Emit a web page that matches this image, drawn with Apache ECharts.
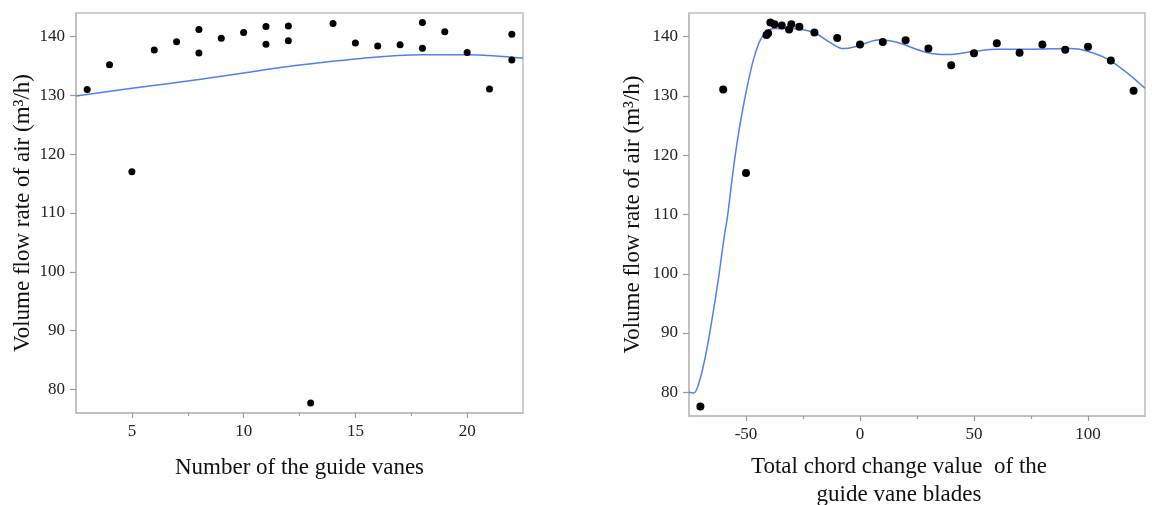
<!DOCTYPE html>
<html>
<head>
<meta charset="utf-8">
<script src="https://cdn.jsdelivr.net/npm/echarts@6/dist/echarts.min.js"></script>
<style>
  html, body { margin: 0; padding: 0; background: #fff; }
  #chart { width: 1152px; height: 505px; }
</style>
</head>
<body>
<div id="chart"></div>
<script>
// left panel: number of guide vanes
const vaneCount = [3, 4, 5, 6, 7, 8, 8, 9, 10, 11, 11, 12, 12, 13, 14, 15, 16, 17, 18, 18, 19, 20, 21, 22, 22];
const vaneFlow = [131.0, 135.2, 117.0, 137.7, 139.1, 141.2, 137.2, 139.7, 140.7, 141.7, 138.7, 141.8, 139.3, 77.7, 142.2, 138.9, 138.4, 138.6, 142.4, 138.0, 140.8, 137.3, 131.1, 140.4, 136.0];
const vaneFitX = [2.5, 5, 8, 10, 12, 15, 18, 20, 22.5];
const vaneFitY = [129.9, 131.2, 132.7, 133.8, 134.9, 136.2, 136.9, 136.9, 136.3];

// right panel: total chord change
const chordChange = [-70, -60, -50, -41, -40.3, -39.3, -37.5, -34.3, -31.1, -30.1, -26.6, -20, -10, 0, 10, 20, 30, 40, 50, 60, 70, 80, 90, 100, 110, 120];
const chordFlow = [77.6, 131.1, 117.0, 140.3, 140.6, 142.4, 142.1, 141.9, 141.2, 142.1, 141.7, 140.7, 139.8, 138.7, 139.1, 139.4, 138.0, 135.2, 137.2, 138.9, 137.3, 138.7, 137.8, 138.3, 136.0, 130.9];
const chordFitX = [-75, -73, -70.8, -67.9, -65, -62, -59.8, -58, -56.2, -54, -51.8, -48.9, -46, -43.1, -40, -37.8, -30.5, -20.3, -13, -7.2, -1.3, 8.9, 16.2, 29.3, 38.1, 49.7, 60, 74.6, 92.1, 99.4, 109.6, 125];
const chordFitY = [80.0, 79.9, 81.4, 85.9, 92.1, 99.4, 105.6, 110.0, 115.7, 121.9, 127.0, 132.6, 137.1, 139.9, 141.1, 141.4, 141.4, 140.7, 139.0, 138.0, 138.4, 139.5, 139.05, 137.35, 137.0, 137.5, 137.9, 137.9, 138.0, 137.6, 136.0, 131.3];

// tick labels
const flowTicks = [80, 90, 100, 110, 120, 130, 140];
const vaneTicks = [5, 10, 15, 20];
const vaneMinor = [7.5, 12.5, 17.5];
const chordTicks = [-50, 0, 50, 100];
const chordMinor = [-25, 25, 75];

const serif = "'Liberation Serif', 'Times New Roman', serif";
const frameColor = '#bdbdbd';
const tickColor = '#9a9a9a';
const lineBlue = '#4f7ff0';

const pairs = (xs, ys) => xs.map((x, i) => [x, ys[i]]);

function xAxisPair(gridIndex, min, max, major, minor, name, nameGap, namePad) {
  return [
    {
      type: 'value', gridIndex: gridIndex, min: min, max: max,
      name: name, nameLocation: 'middle', nameGap: nameGap,
      nameTextStyle: { fontFamily: serif, fontSize: 23, color: '#111', lineHeight: 28, padding: namePad },
      axisLine: { show: true, onZero: false, lineStyle: { color: frameColor, width: 1.5 } },
      axisTick: { show: true, length: 5, customValues: major, lineStyle: { color: tickColor, width: 1.2 } },
      axisLabel: { customValues: major, margin: 10, fontFamily: serif, fontSize: 17, color: '#222' },
      splitLine: { show: false }
    },
    {
      type: 'value', gridIndex: gridIndex, min: min, max: max, position: 'bottom',
      axisLine: { show: false, onZero: false },
      axisTick: { show: true, length: 3, customValues: minor, lineStyle: { color: tickColor, width: 1.2 } },
      axisLabel: { show: false },
      splitLine: { show: false }
    }
  ];
}

function yAxis(gridIndex, nameGap) {
  return {
    type: 'value', gridIndex: gridIndex, min: 76, max: 144,
    name: 'Volume flow rate of air (m\u00b3/h)', nameLocation: 'middle', nameGap: nameGap,
    nameTextStyle: { fontFamily: serif, fontSize: 23, color: '#111' },
    axisLine: { show: true, onZero: false, lineStyle: { color: frameColor, width: 1.5 } },
    axisTick: { show: true, length: 6, customValues: flowTicks, lineStyle: { color: tickColor, width: 1.2 } },
    axisLabel: { customValues: flowTicks, margin: 11, fontFamily: serif, fontSize: 17, color: '#222' },
    splitLine: { show: false }
  };
}

const chart = echarts.init(document.getElementById('chart'));
chart.setOption({
  animation: false,
  backgroundColor: '#fff',
  grid: [
    { left: 76, right: 629, top: 13, bottom: 92, outerBoundsMode: 'none', show: true, borderColor: frameColor, borderWidth: 1.5 },
    { left: 689, right: 7, top: 13, bottom: 89, outerBoundsMode: 'none', show: true, borderColor: frameColor, borderWidth: 1.5 }
  ],
  xAxis: [
    ...xAxisPair(0, 2.5, 22.5, vaneTicks, vaneMinor, 'Number of the guide vanes', 41, [0, 0, 0, 0]),
    ...xAxisPair(1, -75, 125, chordTicks, chordMinor, 'Total chord change value  of the\nguide vane blades', 37, [0, 36, 0, 0])
  ],
  yAxis: [yAxis(0, 42), yAxis(1, 45)],
  series: [
    {
      type: 'line', xAxisIndex: 0, yAxisIndex: 0, data: pairs(vaneFitX, vaneFitY),
      smooth: 0.4, showSymbol: false, lineStyle: { color: lineBlue, width: 1.5 }, z: 2
    },
    {
      type: 'scatter', xAxisIndex: 0, yAxisIndex: 0, data: pairs(vaneCount, vaneFlow),
      symbolSize: 7, itemStyle: { color: '#000', opacity: 1 }, z: 3
    },
    {
      type: 'line', xAxisIndex: 2, yAxisIndex: 1, data: pairs(chordFitX, chordFitY),
      smooth: 0.4, showSymbol: false, lineStyle: { color: lineBlue, width: 1.5 }, z: 2
    },
    {
      type: 'scatter', xAxisIndex: 2, yAxisIndex: 1, data: pairs(chordChange, chordFlow),
      symbolSize: 8, itemStyle: { color: '#000', opacity: 1 }, z: 3
    }
  ]
});
</script>
</body>
</html>
